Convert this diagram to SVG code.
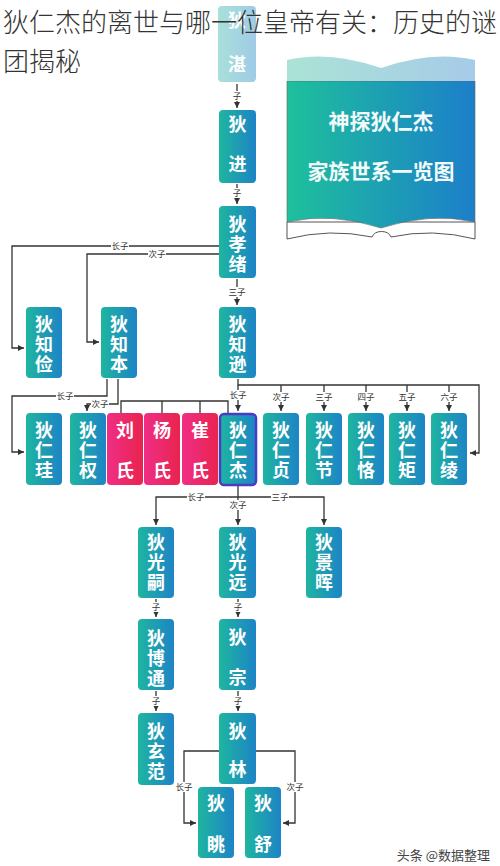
<svg xmlns="http://www.w3.org/2000/svg" width="500" height="866" viewBox="0 0 500 866">
<defs>
<linearGradient id="g" x1="0" y1="0" x2="1" y2="0"><stop offset="0" stop-color="#1fb5a0"/><stop offset="1" stop-color="#1d84c6"/></linearGradient>
<linearGradient id="gp" x1="0" y1="0" x2="1" y2="0"><stop offset="0" stop-color="#f02e85"/><stop offset="1" stop-color="#e8244e"/></linearGradient>
<linearGradient id="gf" x1="0" y1="0" x2="1" y2="0"><stop offset="0" stop-color="#a9e0da"/><stop offset="1" stop-color="#9fcbe6"/></linearGradient>
<linearGradient id="gb" x1="0" y1="0" x2="1" y2="0"><stop offset="0" stop-color="#1ec09c"/><stop offset="1" stop-color="#1c7fca"/></linearGradient>
<linearGradient id="gbl" x1="0" y1="0" x2="1" y2="0"><stop offset="0" stop-color="#abe3d6"/><stop offset="1" stop-color="#a6cbe8"/></linearGradient>
<marker id="ar" viewBox="0 0 6 6" refX="6" refY="3" markerWidth="6" markerHeight="6" markerUnits="userSpaceOnUse" orient="auto"><path d="M0,0 L6,3 L0,6 z" fill="#333"/></marker>
</defs>
<style>
.n rect{fill:url(#g)}
.n.p rect{fill:url(#gp)}
.n text{font-family:"Noto Sans CJK SC","Noto Sans",sans-serif;font-weight:bold;font-size:18px;fill:#fff;text-anchor:middle;writing-mode:vertical-rl;letter-spacing:2px}
#conn path{stroke:#333;stroke-width:1.3;fill:none}
#conn path.a{marker-end:url(#ar)}
#conn rect{fill:#fff}
#conn text{font-family:"Noto Sans CJK SC","Noto Sans",sans-serif;font-size:8.5px;fill:#333;text-anchor:middle}
.t{font-family:"Noto Sans CJK SC","Noto Sans",sans-serif;font-size:26px;fill:#333;font-weight:300}
</style>
<rect width="500" height="866" fill="#fff"/>

<g id="book">
<path d="M287,222 L287,239 Q330,228 372,237 A10,8 0 0 1 391,237 Q432,228 475,239 L475,222 Z" fill="#fff" stroke="#555" stroke-width="1"/>
<path d="M287,81 L475,81 L475,222 Q430,212 381,228 Q332,212 287,222 Z" fill="url(#gb)" stroke="#666" stroke-width="0.6"/>
<path d="M287,60 Q330,50 381,68 Q432,50 475,60 L475,81 L287,81 Z" fill="url(#gbl)"/>
<text x="381" y="129" font-family="Noto Sans CJK SC, sans-serif" font-weight="bold" font-size="21" fill="#f2fafa" text-anchor="middle">神探狄仁杰</text>
<text x="381" y="179" font-family="Noto Sans CJK SC, sans-serif" font-weight="bold" font-size="21" fill="#f2fafa" text-anchor="middle">家族世系一览图</text>
</g>

<g id="conn">
<path class="a" d="M237,84 V108"/><rect x="232" y="91" width="10" height="10"/><text x="237" y="99">子</text>
<path class="a" d="M237,184 V204"/><rect x="232" y="188" width="10" height="10"/><text x="237" y="196">子</text>
<path class="a" d="M237,279 V305"/><rect x="228" y="287" width="18" height="10"/><text x="237" y="295">三子</text>
<path class="a" d="M219,246 H12 V348 H24"/><rect x="111" y="241" width="18" height="10"/><text x="120" y="249">长子</text>
<path class="a" d="M219,254 H87 V342 H99"/><rect x="148" y="249" width="18" height="10"/><text x="157" y="257">次子</text>
<path class="a" d="M107,379 V396 H12 V452 H24"/><rect x="56" y="391" width="18" height="10"/><text x="65" y="399">长子</text>
<path class="a" d="M118,379 V404 H87 V411"/><rect x="91" y="399" width="18" height="10"/><text x="100" y="407">次子</text>
<path d="M121,413 V401 H228 V413 M162,401 V413 M200,401 V413"/>
<path class="a" d="M238,379 V385 H479 V453 H470"/>
<path class="a" d="M238,385 V411"/><rect x="229" y="390" width="18" height="10"/><text x="238" y="398">长子</text>
<path class="a" d="M281,385 V411"/><rect x="272" y="392" width="18" height="10"/><text x="281" y="400">次子</text>
<path class="a" d="M324,385 V411"/><rect x="315" y="392" width="18" height="10"/><text x="324" y="400">三子</text>
<path class="a" d="M366,385 V411"/><rect x="357" y="392" width="18" height="10"/><text x="366" y="400">四子</text>
<path class="a" d="M407,385 V411"/><rect x="398" y="392" width="18" height="10"/><text x="407" y="400">五子</text>
<path class="a" d="M449,385 V411"/><rect x="440" y="392" width="18" height="10"/><text x="449" y="400">六子</text>
<path class="a" d="M238,486 V525"/>
<path class="a" d="M238,497 H156 V525"/>
<path class="a" d="M238,497 H324 V525"/>
<rect x="187" y="492" width="18" height="10"/><text x="196" y="500">长子</text>
<rect x="229" y="500" width="18" height="10"/><text x="238" y="508">次子</text>
<rect x="271" y="492" width="18" height="10"/><text x="280" y="500">三子</text>
<path class="a" d="M156,599 V617"/><rect x="151" y="602" width="10" height="10"/><text x="156" y="610">子</text>
<path class="a" d="M238,599 V617"/><rect x="233" y="602" width="10" height="10"/><text x="238" y="610">子</text>
<path class="a" d="M156,691 V711"/><rect x="151" y="696" width="10" height="10"/><text x="156" y="704">子</text>
<path class="a" d="M238,691 V711"/><rect x="233" y="696" width="10" height="10"/><text x="238" y="704">子</text>
<path class="a" d="M220,751 H184 V823 H196"/><rect x="175" y="782" width="18" height="10"/><text x="184" y="790">长子</text>
<path class="a" d="M256,751 H295 V823 H283"/><rect x="286" y="782" width="18" height="10"/><text x="295" y="790">次子</text>
</g>

<g id="n-dizhan" class="n"><rect x="218" y="6" width="38" height="76" rx="4" style="fill:url(#gf)"/><text x="237" y="55" style="letter-spacing:26px">狄湛</text></g>
<g id="n-dijin" class="n"><rect x="219" y="110" width="37" height="73" rx="4"/><text x="237.5" y="155" style="letter-spacing:22px">狄进</text></g>
<g id="n-dixiaoxu" class="n"><rect x="219" y="206" width="37" height="72" rx="4"/><text x="237.5" y="245">狄孝绪</text></g>
<g id="n-dizhijian" class="n"><rect x="26" y="307" width="36" height="71" rx="4"/><text x="44" y="345">狄知俭</text></g>
<g id="n-dizhiben" class="n"><rect x="101" y="307" width="36" height="71" rx="4"/><text x="119" y="345">狄知本</text></g>
<g id="n-dizhixun" class="n"><rect x="219" y="307" width="37" height="71" rx="4"/><text x="237.5" y="345">狄知逊</text></g>

<g id="n-direngui" class="n"><rect x="26" y="413" width="36" height="72" rx="4"/><text x="44" y="451">狄仁珪</text></g>
<g id="n-direnquan" class="n"><rect x="70" y="413" width="36" height="72" rx="4"/><text x="88" y="451">狄仁权</text></g>
<g id="n-liu" class="n p"><rect x="107" y="413" width="36" height="72" rx="4"/><text x="125" y="461" style="letter-spacing:22px">刘氏</text></g>
<g id="n-yang" class="n p"><rect x="144" y="413" width="36" height="72" rx="4"/><text x="162" y="461" style="letter-spacing:22px">杨氏</text></g>
<g id="n-cui" class="n p"><rect x="182" y="413" width="36" height="72" rx="4"/><text x="200" y="461" style="letter-spacing:22px">崔氏</text></g>
<g id="n-direnjie" class="n"><rect x="220" y="414" width="36" height="71" rx="4" stroke="#4a3ac4" stroke-width="2.5"/><text x="238" y="451">狄仁杰</text></g>
<g id="n-direnzhen" class="n"><rect x="263" y="413" width="36" height="72" rx="4"/><text x="281" y="451">狄仁贞</text></g>
<g id="n-direnjie2" class="n"><rect x="306" y="413" width="36" height="72" rx="4"/><text x="324" y="451">狄仁节</text></g>
<g id="n-direnke" class="n"><rect x="348" y="413" width="36" height="72" rx="4"/><text x="366" y="451">狄仁恪</text></g>
<g id="n-direnju" class="n"><rect x="389" y="413" width="36" height="72" rx="4"/><text x="407" y="451">狄仁矩</text></g>
<g id="n-direnling" class="n"><rect x="431" y="413" width="36" height="72" rx="4"/><text x="449" y="451">狄仁绫</text></g>

<g id="n-diguangsi" class="n"><rect x="138" y="527" width="36" height="71" rx="4"/><text x="156" y="563">狄光嗣</text></g>
<g id="n-diguangyuan" class="n"><rect x="219" y="527" width="37" height="71" rx="4"/><text x="237.5" y="563">狄光远</text></g>
<g id="n-dijinghui" class="n"><rect x="306" y="527" width="36" height="71" rx="4"/><text x="324" y="563">狄景晖</text></g>

<g id="n-dibotong" class="n"><rect x="138" y="619" width="36" height="71" rx="4"/><text x="156" y="659">狄博通</text></g>
<g id="n-dizong" class="n"><rect x="219" y="619" width="37" height="71" rx="4"/><text x="237.5" y="668" style="letter-spacing:22px">狄宗</text></g>

<g id="n-dixuanfan" class="n"><rect x="138" y="713" width="36" height="72" rx="4"/><text x="156" y="752">狄玄范</text></g>
<g id="n-dilin" class="n"><rect x="219" y="713" width="37" height="71" rx="4"/><text x="237.5" y="760" style="letter-spacing:20px">狄林</text></g>

<g id="n-ditiao" class="n"><rect x="198" y="787" width="36" height="71" rx="4"/><text x="216" y="824" style="letter-spacing:0"><tspan style="letter-spacing:23px">狄</tspan>眺</text></g>
<g id="n-dishu" class="n"><rect x="245" y="787" width="36" height="71" rx="4"/><text x="263" y="824" style="letter-spacing:0"><tspan style="letter-spacing:23px">狄</tspan>舒</text></g>

<text class="t" x="3" y="32">狄仁杰的离世与哪一位皇帝有关：历史的谜</text>
<text class="t" x="3" y="71">团揭秘</text>
<text x="490" y="860" font-family="Noto Sans CJK SC, sans-serif" font-size="13" fill="#444" text-anchor="end" stroke="#fff" stroke-width="2.5" paint-order="stroke">头条 @数据整理</text>
</svg>
